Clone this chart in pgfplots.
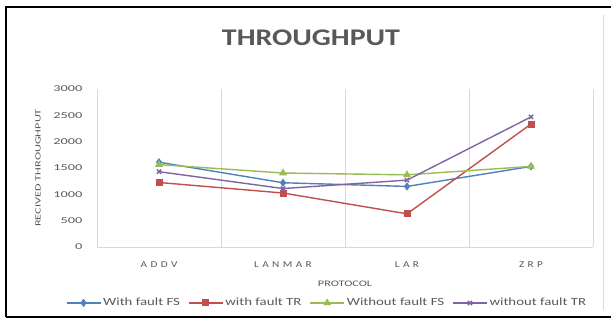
\documentclass[border=0pt]{standalone}
\usepackage{fontspec}
\setmainfont{Carlito}
\usepackage{pgfplots}
\pgfplotsset{compat=1.18}
\definecolor{cBlue}{HTML}{4F81BD}
\definecolor{cRed}{HTML}{C0504D}
\definecolor{cGreen}{HTML}{9BBB59}
\definecolor{cPurple}{HTML}{8064A2}
\definecolor{txt}{HTML}{595959}
\definecolor{gridc}{HTML}{D9D9D9}
\newcommand{\cat}[1]{{\addfontfeatures{LetterSpace=38,FakeStretch=1.25}#1}}
\begin{document}
\begin{tikzpicture}[x=1bp,y=1bp]
\useasboundingbox (0,0) rectangle (611,320);
\fill[white] (0,0) rectangle (611,320);
% outer frame
\draw[black,line width=2.2bp] (6,3) -- (6,313) -- (611,313);
\draw[black,line width=1.2bp] (6,3) -- (611,3);
\draw[gridc,line width=0.6bp] (603,10) -- (603,305);
% title
\node[font=\bfseries\fontsize{24}{28}\selectfont\addfontfeatures{FakeStretch=1.25},text=txt] at (311,282) {THROUGHPUT};
\begin{axis}[
  at={(159bp,73bp)}, anchor=origin,
  scale only axis, width=496bp, height=158bp,
  xmin=-0.5, xmax=3.5, ymin=0, ymax=3000,
  axis x line=bottom, axis y line=left,
  axis line style={gridc,line width=0.7bp,-},
  xtick={0,1,2,3},
  xticklabels={\cat{ADDV},\cat{LANMAR},\cat{LAR},\cat{ZRP}},
  minor xtick={0.5,1.5,2.5,3.5},
  minor x grid style={gridc,line width=0.7bp},
  xminorgrids,
  ytick={0,500,...,3000},
  major tick length=0pt, minor tick length=0pt,
  tick label style={text=txt,font=\fontsize{9}{11}\selectfont},
  yticklabel style={xshift=-11bp,font=\fontsize{9}{11}\selectfont\addfontfeatures{FakeStretch=1.6}},
  xticklabel style={yshift=-11bp},
  /pgf/number format/assume math mode=true,
  /pgf/number format/set thousands separator={},
  xlabel={PROTOCOL}, ylabel={RECIVED THROUGHPUT},
  xlabel style={text=txt,font=\fontsize{8.5}{10}\selectfont\addfontfeatures{FakeStretch=1.45},
    at={(axis description cs:0.5,0)},yshift=-30bp,anchor=north},
  ylabel style={text=txt,font=\fontsize{8}{10}\selectfont\addfontfeatures{FakeStretch=1.55},
    at={(axis description cs:-0.119,0.5)},anchor=center},
  every axis plot/.append style={line width=1.4bp},
  legend style={at={(0.4637,-0.354)},anchor=center,draw=none,fill=none,
    legend columns=4,font=\fontsize{11}{13}\selectfont\addfontfeatures{FakeStretch=1.35},text=txt,
    /tikz/every even column/.append style={column sep=6bp},
    inner sep=1bp},
  legend image code/.code={\draw[#1,mark repeat=2,mark phase=2] plot coordinates {(0bp,0bp) (17bp,0bp) (34bp,0bp)};},
  clip=false,
]
\addplot[cBlue,mark=diamond*,mark size=3bp] coordinates {(0,1610) (1,1220) (2,1150) (3,1530)};
\addlegendentry{With fault FS}
\addplot[cRed,mark=square*,mark size=2.8bp] coordinates {(0,1225) (1,1025) (2,630) (3,2335)};
\addlegendentry{with fault TR}
\addplot[cGreen,mark=triangle*,mark size=3.2bp] coordinates {(0,1565) (1,1405) (2,1370) (3,1530)};
\addlegendentry{Without fault FS}
\addplot[cPurple,mark=x,mark size=3bp] coordinates {(0,1430) (1,1110) (2,1270) (3,2470)};
\addlegendentry{without fault TR}
\end{axis}
\end{tikzpicture}
\end{document}
